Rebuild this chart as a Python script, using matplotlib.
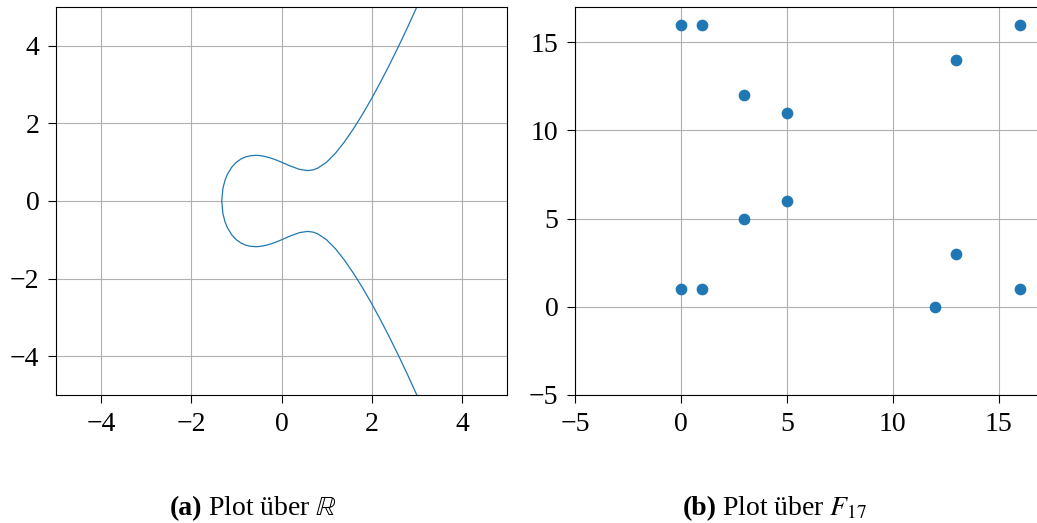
import matplotlib
matplotlib.use("Agg")
import matplotlib.pyplot as plt

plt.rcParams['font.family'] = ['Liberation Serif', 'DejaVu Serif']
plt.rcParams['mathtext.fontset'] = 'stix'

# curve over R, upper branch; lower branch is its mirror
curve_x = [-1.3247, -1.3, -1.25, -1.2, -1.1, -1.0, -0.9, -0.8, -0.7, -0.577, -0.5,
           -0.4, -0.3, -0.2, -0.1, 0.0, 0.2, 0.4, 0.577, 0.7, 0.8, 1.0, 1.2, 1.4,
           1.6, 1.8, 2.0, 2.2, 2.4, 2.6, 2.8, 3.0]
curve_y = [0.0, 0.321, 0.545, 0.687, 0.877, 1.0, 1.082, 1.135, 1.165, 1.177, 1.173,
           1.156, 1.128, 1.092, 1.048, 1.0, 0.899, 0.815, 0.784, 0.802, 0.844, 1.0,
           1.236, 1.531, 1.870, 2.243, 2.646, 3.074, 3.525, 3.997, 4.489, 5.0]

# points over F_17
pts_x = [0, 0, 1, 1, 3, 3, 5, 5, 12, 13, 13, 16, 16]
pts_y = [1, 16, 1, 16, 5, 12, 6, 11, 0, 3, 14, 1, 16]

ticks_a = [-4, -2, 0, 2, 4]
ticks_b = [-5, 0, 5, 10, 15]

W, H = 1037, 523
fig = plt.figure(figsize=(W / 100, H / 100), dpi=100)

ax1 = fig.add_axes([56 / W, 128 / H, 451 / W, 388 / H])
ax2 = fig.add_axes([575 / W, 128 / H, 466 / W, 388 / H])

full_x = curve_x[::-1] + curve_x[1:]
full_y = [-v for v in curve_y[::-1]] + curve_y[1:]
ax1.plot(full_x, full_y, color='#1f77b4', linewidth=0.9)
ax1.set_xlim(-5, 5)
ax1.set_ylim(-5, 5)
ax1.set_xticks(ticks_a)
ax1.set_yticks(ticks_a)

ax2.scatter(pts_x, pts_y, s=55, color='#1f77b4', zorder=3)
ax2.set_xlim(-5, 17)
ax2.set_ylim(-5, 17)
ax2.set_xticks(ticks_b)
ax2.set_yticks(ticks_b)

for ax in (ax1, ax2):
    ax.grid(True, color='#b0b0b0', linewidth=0.8)
    ax.set_axisbelow(True)
    ax.tick_params(labelsize=20, length=6, width=0.8, pad=6, direction='out')
    for sp in ax.spines.values():
        sp.set_linewidth(0.8)

# captions: bold label followed by the normal text
renderer = fig.canvas.get_renderer()


def caption(x_px, label, rest):
    t = fig.text(x_px / W, 8 / H, label, fontsize=20, fontweight='bold',
                 ha='left', va='baseline')
    bb = t.get_window_extent(renderer)
    fig.text((bb.x1 + 5) / W, 8 / H, rest, fontsize=20, ha='left', va='baseline')


caption(170, '(a)', r'Plot über $\mathbb{R}$')
caption(683, '(b)', r'Plot über $F_{17}$')

fig.savefig('out.png', dpi=100)
